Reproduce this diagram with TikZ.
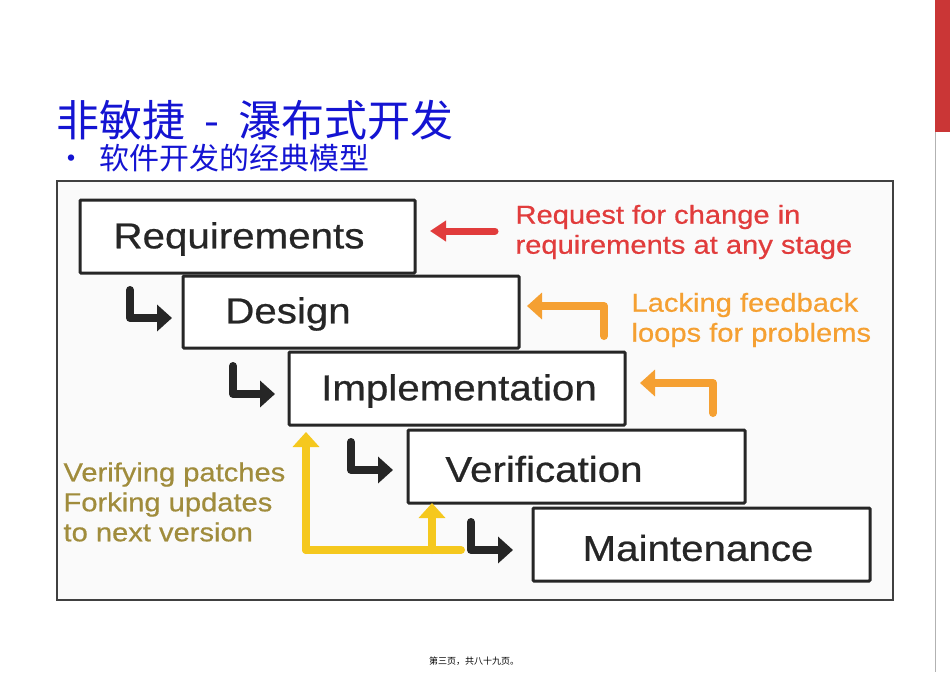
\documentclass[tikz,border=0pt]{standalone}
\usepackage{fontspec}
\setmainfont{Liberation Sans}
\newfontfamily\wide[FakeStretch=1.12,FakeBold=0.6]{Liberation Sans}
\newfontfamily\cjk{Noto Sans CJK SC}
\usetikzlibrary{arrows.meta}
\definecolor{ttl}{RGB}{20,20,210}
\definecolor{redc}{RGB}{225,60,60}
\definecolor{orc}{RGB}{245,160,50}
\definecolor{yelc}{RGB}{245,200,30}
\definecolor{olive}{RGB}{160,140,60}
\begin{document}
\begin{tikzpicture}[x=1pt,y=-1pt,
  stage/.style={draw=black!85,line width=3pt,fill=white,rounded corners=1pt},
  stxt/.style={font=\wide\fontsize{36}{36}\selectfont,text=black!85},
  blk/.style={draw=black!85,line width=8pt,line cap=round,line join=round,-{Triangle[length=15pt,width=26pt]}},
  fb/.style={line width=8pt,line cap=round,line join=round,-{Triangle[length=15pt,width=26pt]}},
  note/.style={font=\wide\fontsize{26}{30}\selectfont,align=left,anchor=west}]
\useasboundingbox (0,0) rectangle (950,672);
\fill[white] (0,0) rectangle (950,672);
\fill[redc!90!black] (935,0) rectangle (950,132);
\draw[gray!60,line width=0.6pt] (935,132) -- (935,672);
% title
\node[anchor=west,text=ttl,font=\cjk\fontsize{43}{43}\selectfont,inner sep=0pt] (title) at (56,120) {非敏捷\ \ -\ \ 瀑布式开发};
\node[anchor=west,text=ttl,font=\cjk\fontsize{30}{30}\selectfont,inner sep=0pt] (sub) at (56,158) {•\ \ 软件开发的经典模型};
% frame
\draw[fill=gray!4,draw=black!75,line width=2pt] (57,181) rectangle (893,600);
% stages
\draw[stage] (80,200) rectangle (415,273);
\node[stxt] (req) at (239,239) {Requirements};
\draw[stage] (183,276) rectangle (519,348);
\node[stxt] (des) at (288,314) {Design};
\draw[stage] (289,352) rectangle (625,425);
\node[stxt] (imp) at (459,391) {Implementation};
\draw[stage] (408,430) rectangle (745,503);
\node[stxt] (ver) at (544,469) {Verification};
\draw[stage] (533,508) rectangle (870,581);
\node[stxt] (mai) at (698,548) {Maintenance};
% black arrows
\coordinate (b1) at (130,290); \coordinate (b1e) at (172,318);
\draw[blk] (b1) |- (b1e);
\coordinate (b2) at (233,366); \coordinate (b2e) at (275,394);
\draw[blk] (b2) |- (b2e);
\coordinate (b3) at (351,442); \coordinate (b3e) at (393,470);
\draw[blk] (b3) |- (b3e);
\coordinate (b4) at (471,522); \coordinate (b4e) at (513,550);
\draw[blk] (b4) |- (b4e);
% red arrow
\coordinate (r1) at (495,231); \coordinate (r2) at (430,231);
\draw[fb,draw=redc,line width=7pt,-{Triangle[length=16pt,width=20pt]}] (r1) -- (r2);
% orange arrows
\coordinate (o1) at (604,336); \coordinate (o1e) at (527,306);
\draw[fb,draw=orc] (o1) |- (o1e);
\coordinate (o2) at (713,413); \coordinate (o2e) at (640,383);
\draw[fb,draw=orc] (o2) |- (o2e);
% yellow arrows
\coordinate (y0) at (461,550); \coordinate (y1) at (306,432); \coordinate (y2) at (432,503);
\draw[fb,draw=yelc,-] (y0) -- (306,550);
\draw[fb,draw=yelc] (306,550) -- (y1);
\draw[fb,draw=yelc] (432,550) -- (y2);
% notes
\node[note,text=redc] (n1) at (512,232) {Request for change in\\requirements at any stage};
\node[note,text=orc] (n2) at (628,320) {Lacking feedback\\loops for problems};
\node[note,text=olive] (n3) at (60,502) {Verifying patches\\Forking updates\\to next version};
% footer
\node[font=\cjk\fontsize{9}{9}\selectfont] (foot) at (474,661) {第三页，共八十九页。};
\end{tikzpicture}
\end{document}
